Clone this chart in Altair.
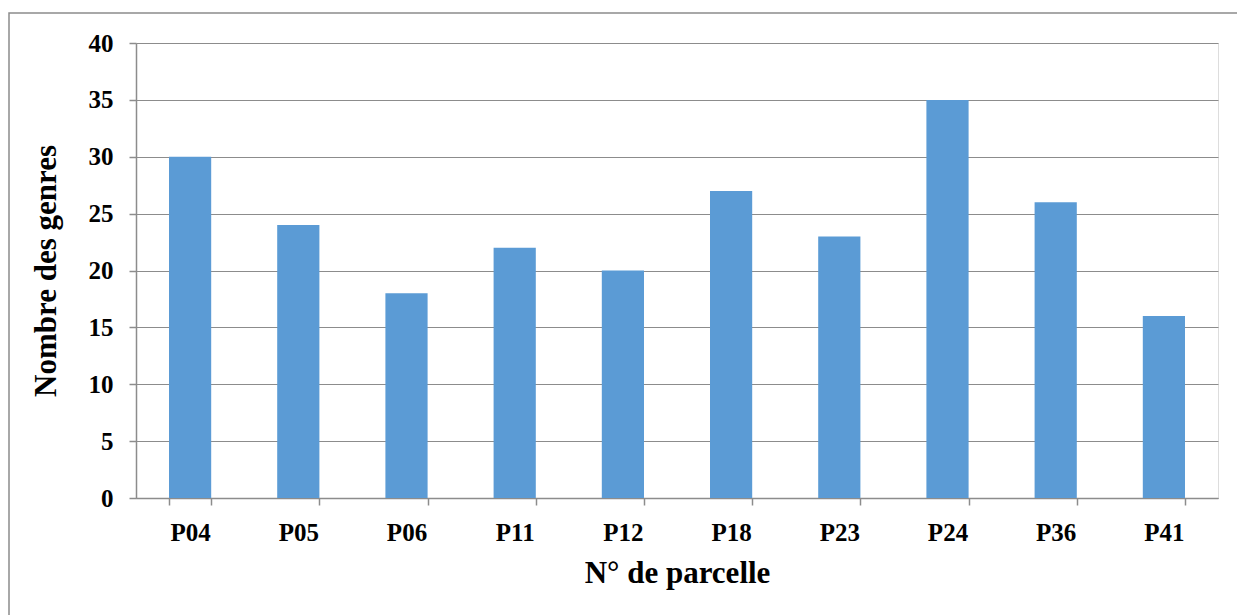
import altair as alt
import pandas as pd

parcelles = ["P04", "P05", "P06", "P11", "P12", "P18", "P23", "P24", "P36", "P41"]
genres = [30, 24, 18, 22, 20, 27, 23, 35, 26, 16]

df = pd.DataFrame({"parcelle": parcelles, "genres": genres})

W, H = 1082, 455
FONT = "Liberation Serif"
GREY = "#8c8c8c"

# outer frame of the chart area
frame = alt.Chart(pd.DataFrame({"k": [0]})).mark_rect(
    fill=None, stroke=GREY, strokeWidth=1.5, clip=False
).encode(
    x=alt.value(-127), x2=alt.value(W + 60),
    y=alt.value(-30), y2=alt.value(H + 140),
)

bars = alt.Chart(df).mark_bar(color="#5B9BD5").encode(
    x=alt.X(
        "parcelle:N",
        sort=parcelles,
        scale=alt.Scale(paddingInner=0.61, paddingOuter=0.305),
        axis=alt.Axis(
            title="N° de parcelle",
            labelAngle=0,
            labelFont=FONT, labelFontSize=25, labelFontWeight="bold", labelColor="black",
            labelPadding=15,
            titleFont=FONT, titleFontSize=31, titleFontWeight="bold", titleColor="black",
            titlePadding=13,
            domainColor=GREY, domainWidth=1.5,
            tickColor=GREY, tickSize=7, tickWidth=1.5, tickBand="extent",
            grid=False,
        ),
    ),
    y=alt.Y(
        "genres:Q",
        scale=alt.Scale(domain=[0, 40], nice=False),
        axis=alt.Axis(
            title="Nombre des genres",
            values=list(range(0, 41, 5)),
            labelFont=FONT, labelFontSize=25, labelFontWeight="bold", labelColor="black",
            labelPadding=16,
            titleFont=FONT, titleFontSize=31, titleFontWeight="bold", titleColor="black",
            titlePadding=26,
            domainColor=GREY, domainWidth=1.5,
            tickColor=GREY, tickSize=7, tickWidth=1.5,
            grid=True, gridColor=GREY, gridWidth=1.2,
        ),
    ),
)

chart = alt.layer(frame, bars).properties(
    width=W, height=H,
    autosize=alt.AutoSizeParams(type="none"),
    padding={"left": 136, "top": 43, "right": 19, "bottom": 117},
).configure_view(stroke=None).configure(background="white")

chart.save("out.html", embed_options={"renderer": "svg", "actions": False})
